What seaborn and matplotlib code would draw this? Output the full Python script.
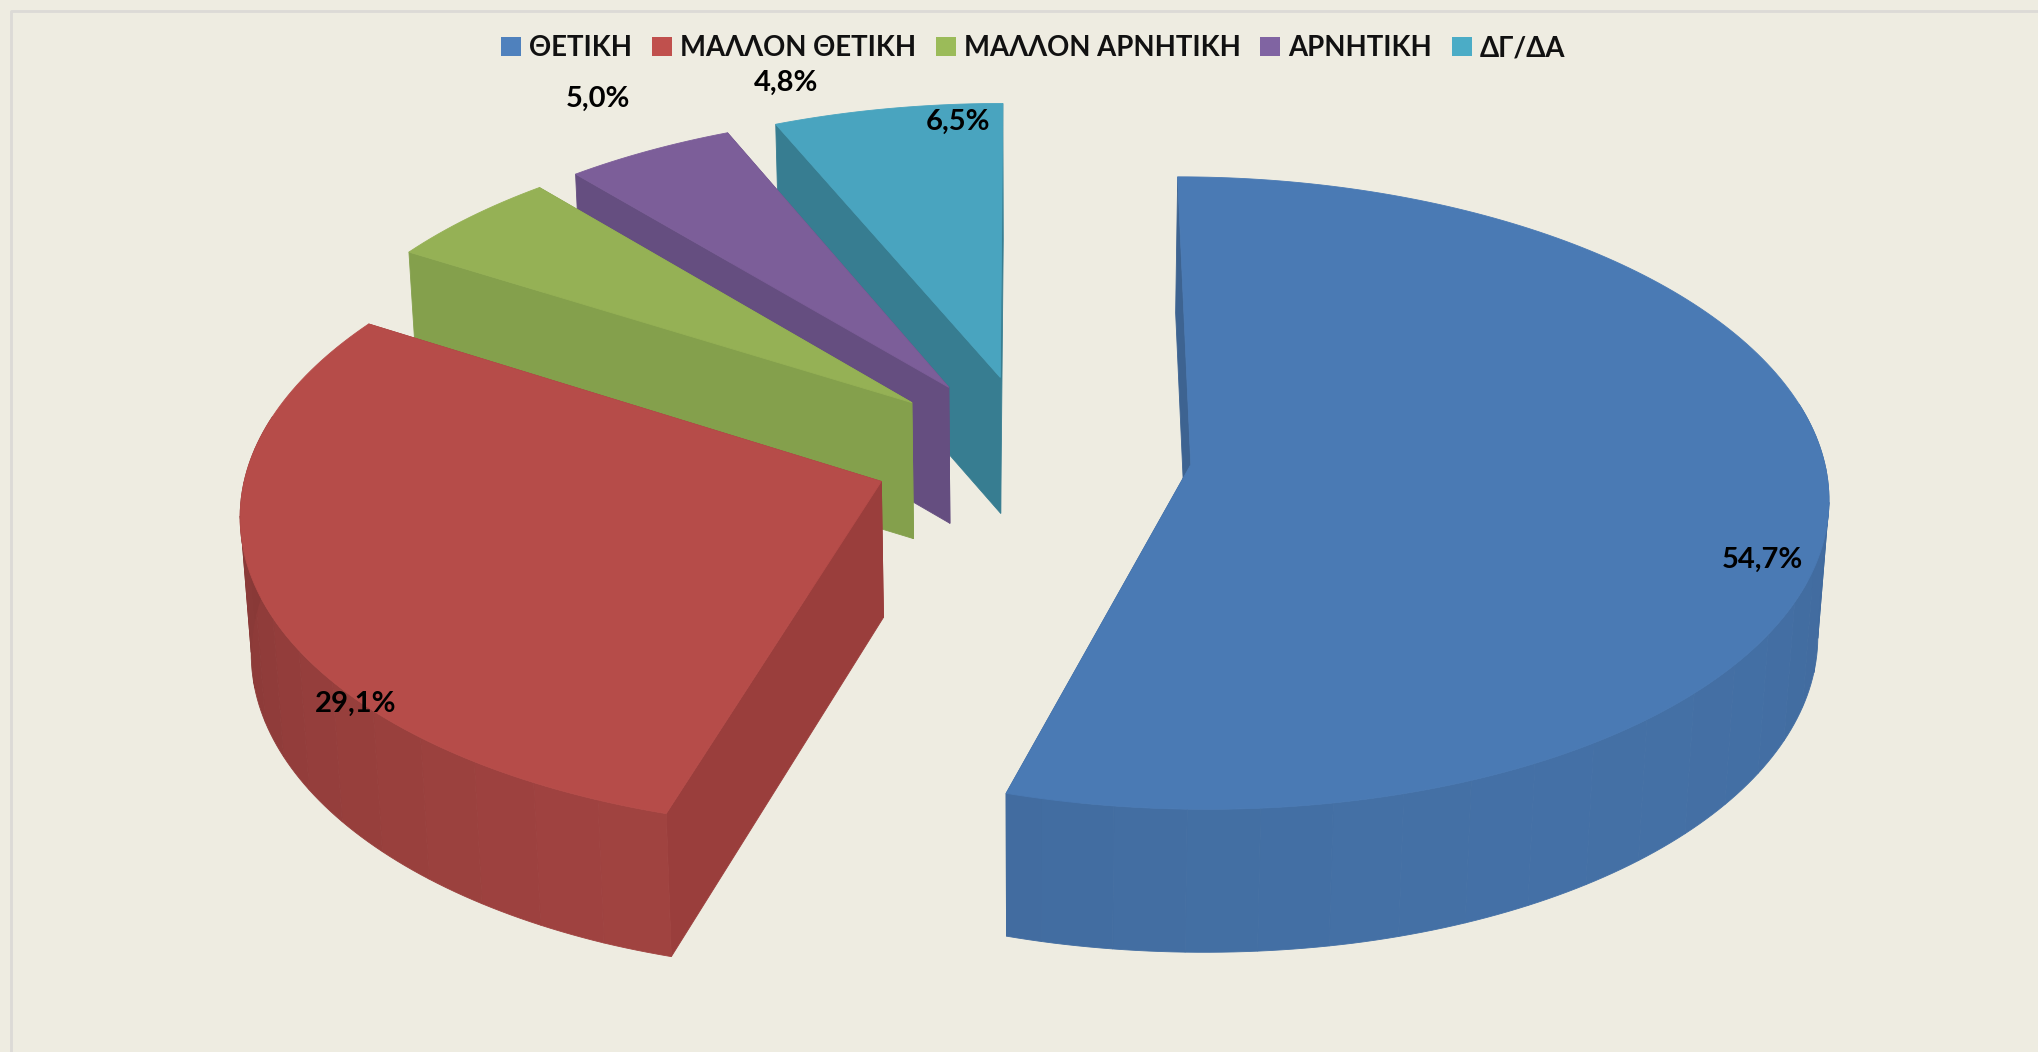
import numpy as np
import matplotlib
matplotlib.use('Agg')
import matplotlib.pyplot as plt
from matplotlib.colors import to_rgb
from matplotlib.patches import Patch
import seaborn as sns

categories = ['ΘΕΤΙΚΗ', 'ΜΑΛΛΟΝ ΘΕΤΙΚΗ', 'ΜΑΛΛΟΝ ΑΡΝΗΤΙΚΗ', 'ΑΡΝΗΤΙΚΗ', 'ΔΓ/ΔΑ']
values = [54.7, 29.1, 5.0, 4.8, 6.5]
colors = ['#4A7AB4', '#B64C49', '#95B155', '#7C5E99', '#49A4BF']
side_colors = ['#3D6391', '#9A3E3C', '#84A04C', '#654E80', '#377D91']
legend_colors = ['#4F81BD', '#C0504D', '#9BBB59', '#8064A2', '#4BACC6']

# where the percentages sit, in pixels
label_x = [1762, 356, 598, 786, 958]
label_y = [560, 704, 99, 83, 122]

BG = '#EEECE1'
RADIUS = 632
EXPLODE = 160
CX, CY = 1032, 453
TILT = 0.493
PERSP = 0.09
DEPTH = 136


def project(x, y):
    # top face of the pie, y > 0 is toward the viewer
    s = 1 / (1 - PERSP * y / RADIUS)
    return CX + x * s, CY + y * TILT * s


def drop(sx, sy):
    # same point on the bottom face
    return CX + (sx - CX) * 0.986, sy + DEPTH + 7 * np.clip((sy - 500) / 300, 0, 1)


def wall(ax, xs, ys, color):
    bx, by = drop(xs, ys)
    ax.fill(np.r_[xs, bx[::-1]], np.r_[ys, by[::-1]], color=color, lw=0.6, zorder=2)


def draw_slice(ax, start, end, color, side_color):
    mid = (start + end) / 2
    ox = EXPLODE * np.sin(mid)
    oy = -EXPLODE * np.cos(mid)
    theta = np.linspace(start, end, max(int(np.degrees(end - start)), 2))
    ax0, ay0 = project(ox, oy)
    ex, ey = project(ox + RADIUS * np.sin(theta), oy - RADIUS * np.cos(theta))

    # flat sides first, then the front of the rim in small facets, then the top
    for i in (0, -1):
        wall(ax, np.array([ax0, ex[i]]), np.array([ay0, ey[i]]), side_color)
    step = 6
    base = np.array(to_rgb(color))
    for i in range(0, len(theta) - 1, step):
        ang = np.degrees(theta[i:i + step + 1].mean())
        if ang < 80 or ang > 280:
            continue
        shade = 0.81 + 0.11 * np.cos(np.radians(ang - 150))
        wall(ax, ex[i:i + step + 1], ey[i:i + step + 1], tuple(base * shade))
    ax.fill(np.r_[ax0, ex], np.r_[ay0, ey], color=color, lw=0.6, zorder=2)


sns.set_theme(style='white')
plt.rcParams['font.family'] = ['Lato', 'Noto Sans', 'DejaVu Sans']

fig = plt.figure(figsize=(20.38, 10.52), dpi=100, facecolor=BG)
ax = fig.add_axes([0, 0, 1, 1])
ax.set_xlim(0, 2038)
ax.set_ylim(1052, 0)
ax.set_facecolor(BG)
ax.axis('off')

# chart area border
ax.plot([11, 11, 2038], [1052, 11, 11], color='#DCDAD6', lw=2, zorder=1)

total = sum(values)
edges = np.radians(np.r_[0, np.cumsum(values)] / total * 360)

# back slices first so the front ones cover them
for i in [4, 3, 2, 1, 0]:
    draw_slice(ax, edges[i], edges[i + 1], colors[i], side_colors[i])

for v, x, y in zip(values, label_x, label_y):
    ax.text(x, y, f'{v:.1f}%'.replace('.', ','), ha='center', va='center',
            fontsize=21, fontweight='bold', color='black', zorder=5)

handles = [Patch(facecolor=c, edgecolor='none') for c in legend_colors]
ax.legend(handles, categories, loc='upper center', bbox_to_anchor=(0.507, 0.99), ncol=5,
          frameon=False, prop={'size': 19.8, 'weight': 'bold'}, handlelength=0.72,
          handleheight=0.72, handletextpad=0.3, columnspacing=0.72, labelcolor='#111111')

plt.savefig('out.png', dpi=100, facecolor=BG)
plt.close()
